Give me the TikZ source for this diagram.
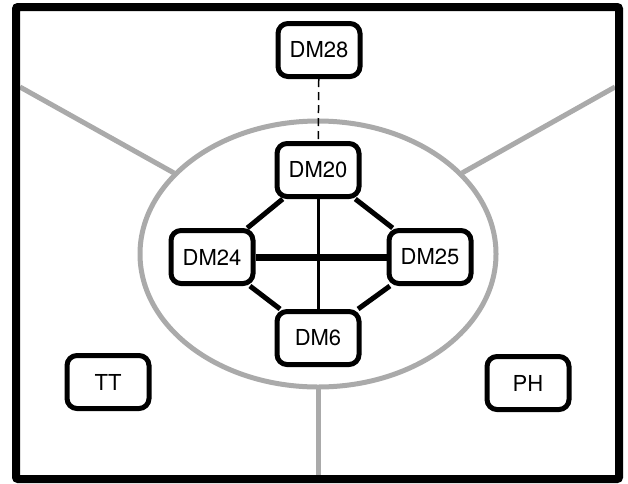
\documentclass[tikz,border=0pt]{standalone}
\usepackage{fontspec}
\setmainfont{TeX Gyre Heros}
\definecolor{zonegray}{RGB}{170,170,170}
\tikzset{
  dm/.style={draw,line width=5pt,rounded corners=10pt,fill=white,
    minimum width=82pt,minimum height=53pt,inner sep=0pt,
    font=\fontsize{22}{26}\selectfont},
  zone/.style={draw=zonegray,line width=5pt}
}
\begin{document}
\begin{tikzpicture}[x=1pt,y=-1pt]
\useasboundingbox (0,0) rectangle (628,483);
\draw[zone] (318,254) ellipse [x radius=178,y radius=133];
\draw[zone] (20,87) -- (174,173);
\draw[zone] (615,87) -- (462,173);
\draw[zone] (318,479) -- (318,387);
\draw[line width=8pt,rounded corners=2pt] (16,7) rectangle (619,479);
%%%%
\node[dm] (dm28) at (319,50) {DM28};
\node[dm] (dm20) at (318,170) {DM20};
\node[dm] (dm24) at (212,257) {DM24};
\node[dm] (dm25) at (430,257) {DM25};
\node[dm] (dm6) at (318,338) {DM6};
\node[dm] (tt) at (108,382) {TT};
\node[dm] (ph) at (528,383) {PH};
%%%%
\draw[line width=1.5pt,dash pattern=on 8pt off 5pt] (dm28) -- (dm20);
\foreach \a/\b in {dm20/dm24,dm20/dm25,dm24/dm6,dm25/dm6}
\draw[line width=5pt] (\a) -- (\b);
\draw[line width=7pt] (dm24) -- (dm25);
\draw[line width=3pt] (dm20) -- (dm6);
\end{tikzpicture}
\end{document}
